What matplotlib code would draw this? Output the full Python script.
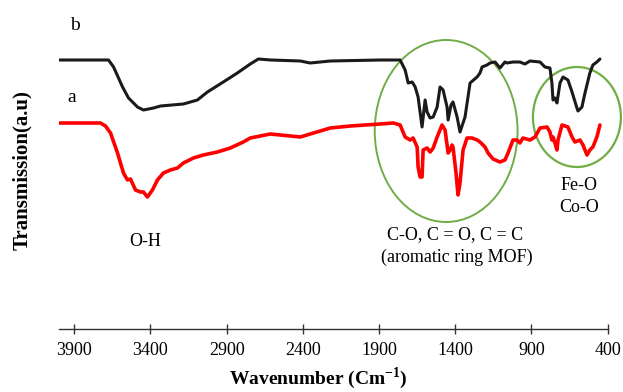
import matplotlib
matplotlib.use("Agg")
import matplotlib.pyplot as plt
from matplotlib.patches import Ellipse

plt.rcParams['font.family'] = ['Liberation Serif', 'DejaVu Serif']
plt.rcParams['mathtext.fontset'] = 'custom'
plt.rcParams['mathtext.rm'] = 'Liberation Serif'
plt.rcParams['mathtext.bf'] = 'Liberation Serif:bold'

# Spectrum b (black) - wavenumber (cm-1) and transmission (a.u.)
wn_b = [4000, 3675, 3642, 3583, 3544, 3485, 3446, 3380, 3334, 3184, 3092, 3026, 2922, 2830,
        2745, 2692, 2610, 2417, 2352, 2220, 1893, 1762, 1729, 1709, 1683, 1663, 1644, 1618,
        1598, 1585, 1565, 1545, 1519, 1500, 1480, 1454, 1447, 1428, 1415, 1388, 1369, 1336,
        1303, 1257, 1238, 1224, 1192, 1172, 1139, 1107, 1074, 1061, 1021, 976, 943, 910, 844,
        812, 779, 766, 759, 746, 733, 713, 693, 661, 634, 602, 595, 569, 549, 517, 497, 471, 451]
tr_b = [14.0, 14.0, 13.3, 11.3, 10.2, 9.3, 9.0, 9.2, 9.4, 9.6, 10.0, 10.8, 11.8, 12.7,
        13.6, 14.1, 14.0, 13.9, 13.7, 13.9, 14.0, 14.0, 13.0, 11.7, 11.8, 11.3, 10.3, 7.3,
        10.0, 8.8, 8.2, 8.3, 9.3, 11.3, 11.0, 9.3, 8.0, 9.5, 9.8, 8.3, 6.8, 8.3,
        11.7, 12.3, 12.7, 13.3, 13.5, 13.7, 13.8, 13.2, 13.8, 13.7, 13.8, 13.8, 13.6, 13.9, 13.8,
        13.3, 13.2, 11.7, 10.0, 10.2, 9.7, 11.7, 12.3, 12.0, 10.8, 9.2, 8.9, 9.3, 10.7, 12.7, 13.5, 13.8, 14.1]

# Spectrum a (red)
wn_a = [4000, 3728, 3695, 3662, 3616, 3577, 3551, 3531, 3498, 3466, 3446, 3420, 3387, 3354,
        3315, 3269, 3223, 3184, 3118, 3053, 2961, 2876, 2791, 2745, 2614, 2417, 2352, 2220,
        2089, 1893, 1807, 1762, 1729, 1696, 1677, 1650, 1644, 1631, 1618, 1611, 1585, 1565,
        1545, 1519, 1487, 1467, 1447, 1434, 1421, 1415, 1395, 1382, 1369, 1349, 1323, 1290,
        1257, 1238, 1205, 1185, 1152, 1107, 1074, 1054, 1021, 995, 976, 956, 910, 877, 844,
        798, 779, 766, 759, 746, 733, 726, 700, 661, 634, 615, 582, 562, 536, 517, 497, 471, 451]
tr_a = [7.7, 7.7, 7.4, 6.7, 4.7, 2.7, 2.0, 2.1, 1.0, 0.8, 0.8, 0.3, 1.0, 2.0,
        2.7, 3.0, 3.2, 3.7, 4.2, 4.5, 4.8, 5.2, 5.8, 6.2, 6.6, 6.3, 6.6, 7.2,
        7.4, 7.6, 7.7, 7.5, 6.3, 6.0, 6.2, 5.3, 3.3, 2.3, 2.3, 5.0, 5.2, 4.8,
        5.2, 6.3, 7.5, 7.0, 4.7, 5.0, 5.5, 5.3, 2.7, 0.5, 1.7, 5.0, 6.2, 6.2,
        6.0, 5.8, 5.3, 4.7, 4.1, 3.8, 4.0, 4.7, 6.0, 6.0, 5.7, 6.2, 6.0, 6.3, 7.2,
        7.3, 6.8, 6.0, 6.3, 5.7, 5.0, 6.0, 7.5, 7.3, 6.3, 5.8, 6.0, 5.5, 4.5, 5.0, 5.3, 6.3, 7.5]

xticks = [3900, 3400, 2900, 2400, 1900, 1400, 900, 400]

fig = plt.figure(figsize=(6.23, 3.92), dpi=100)
ax = fig.add_axes([59 / 623, 1 - 329 / 392, (607.7 - 59) / 623, 329 / 392])
ax.plot(wn_b, tr_b, color='#1a1a1a', lw=2.2, solid_joinstyle='round', solid_capstyle='round')
ax.plot(wn_a, tr_a, color='#ff0000', lw=2.6, solid_joinstyle='round', solid_capstyle='round')

ax.set_xlim(4000, 400)
ax.set_ylim(-12.9, 20)
for s in ['top', 'left', 'right']:
    ax.spines[s].set_visible(False)
ax.spines['bottom'].set_color('#333333')
ax.spines['bottom'].set_linewidth(1.0)
ax.set_yticks([])
ax.set_xticks(xticks)
ax.set_xticklabels([str(t) for t in xticks])
ax.tick_params(axis='x', direction='inout', length=7, width=1.0, color='#333333',
               labelsize=13, pad=6)

# ellipses
ax.add_patch(Ellipse((1460, 6.9), 937, 18.2, fill=False, edgecolor='#70ad47', lw=1.4,
                     clip_on=False))
ax.add_patch(Ellipse((602, 8.3), 577, 10.0, fill=False, edgecolor='#70ad47', lw=1.6,
                     clip_on=False))

def ft(x, y, s, **kw):
    fig.text(x / 623, 1 - y / 392, s, ha='center', va='center', **kw)

ft(75, 25, 'b', fontsize=14)
ft(72, 97, 'a', fontsize=14)
ft(145, 242, 'O-H', fontsize=13)
ft(455, 235, 'C-O, C = O, C = C', fontsize=13)
ft(457, 257, '(aromatic ring MOF)', fontsize=13)
ft(579, 186, 'Fe-O', fontsize=13)
ft(579, 208, 'Co-O', fontsize=13)
ft(318, 378, r'Wavenumber (Cm$^{\mathbf{-1}}$)', fontsize=14, fontweight='bold')
ft(22, 170, 'Transmission(a.u)', fontsize=15, fontweight='bold', rotation=90)

fig.savefig('out.png', dpi=100)
